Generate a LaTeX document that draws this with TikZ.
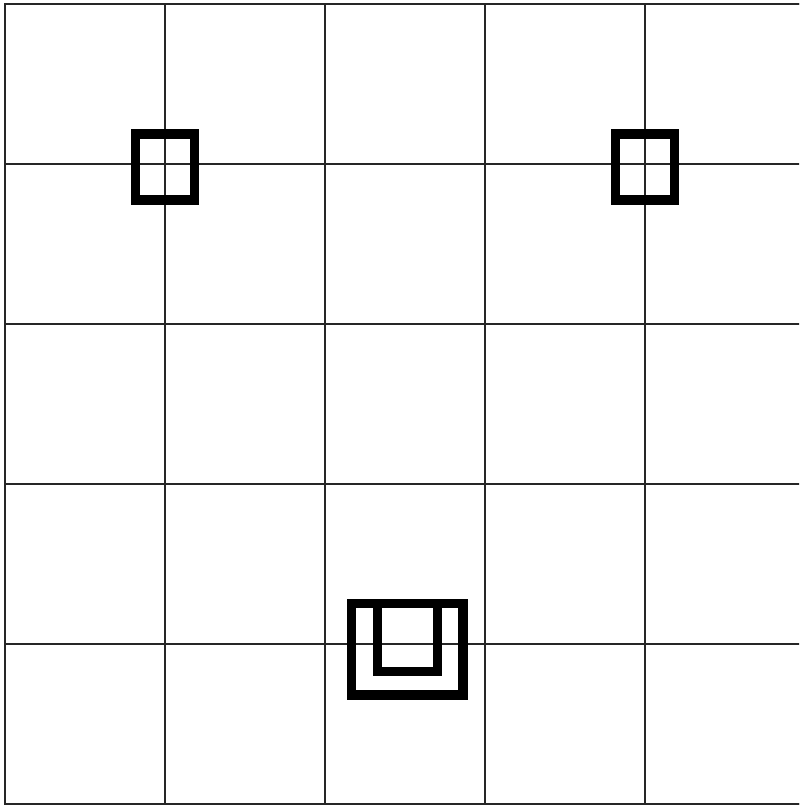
\documentclass[tikz,border=0pt]{standalone}
\usepackage{tikz}
\usetikzlibrary{positioning}

\tikzset{
	cellline/.style={black!85,line width=1.1pt},
	frame/.style={black,line width=5.4pt,line join=miter}
}

\begin{document}
\begin{tikzpicture}[scale=3.2]
	\useasboundingbox (-0.03125,-0.00625) rectangle (4.9625,5.025);
	\clip (-0.03125,-0.00625) rectangle (4.9625,5.025);
	% board
	\draw[step=1,cellline] (0,0) grid (5,5);
	\draw[cellline] (0,0) rectangle (5,5);
	
	% small frames at the top crossings
	\foreach \x in {1,4}{
		\draw[frame] (\x-0.184,3.774) rectangle (\x+0.184,4.186);
	}
	
	% double frame at the bottom
	\draw[frame] (2.167,0.681) rectangle (2.864,1.254);
	\draw[frame] (2.329,1.254) -- (2.329,0.827) -- (2.704,0.827) -- (2.704,1.254);
\end{tikzpicture}
\end{document}
